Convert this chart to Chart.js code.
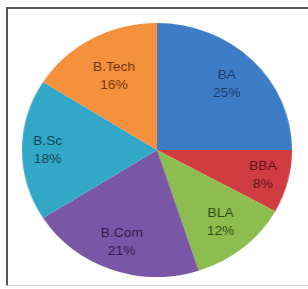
<!DOCTYPE html>
<html>
<head>
<meta charset="utf-8">
<script src="https://cdn.jsdelivr.net/npm/chart.js@4/dist/chart.umd.min.js"></script>
<style>
  html, body { margin: 0; padding: 0; background: #ffffff; }
  body { width: 308px; height: 289px; position: relative; overflow: hidden; }
  #frame { position: absolute; left: 6px; top: 7px; width: 320px; height: 279px;
           border-left: 2px solid #555; border-top: 2px solid #555; border-bottom: 1px solid #d8d8d8; box-sizing: border-box; }
  #wrap { position: absolute; left: 30px; top: 23px; width: 254px; height: 254px;
          transform: scaleX(1.063); transform-origin: 50% 50%; }
</style>
</head>
<body>
<div id="frame"></div>
<div id="wrap"><canvas id="c"></canvas></div>
<script>
const categories = ["BA", "BBA", "BLA", "B.Com", "B.Sc", "B.Tech"];
const shares = [25, 8, 12, 21, 18, 16];
const sliceColors = ["#3d7dc8", "#d13b42", "#8dbd4e", "#7a56a6", "#33a7c8", "#f5913d"];
const textColors = ["#1c3b66", "#5a1418", "#2f4a14", "#2e1c4a", "#123f4c", "#6a3410"];
const labelRadius = [0.73, 0.81, 0.74, 0.77, 0.81, 0.66];

const sliceLabels = {
  id: "sliceLabels",
  afterDatasetsDraw(chart) {
    const ctx = chart.ctx;
    const meta = chart.getDatasetMeta(0);
    ctx.save();
    ctx.font = "13px 'Liberation Sans', Arial, sans-serif";
    ctx.textAlign = "center";
    ctx.textBaseline = "middle";
    meta.data.forEach((arc, i) => {
      const p = arc.getProps(["x", "y", "startAngle", "endAngle", "outerRadius"], true);
      const mid = (p.startAngle + p.endAngle) / 2;
      const r = p.outerRadius * labelRadius[i];
      const x = p.x + Math.cos(mid) * r;
      const y = p.y + Math.sin(mid) * r;
      ctx.fillStyle = textColors[i];
      ctx.fillText(categories[i], x, y - 9);
      ctx.fillText(shares[i] + "%", x, y + 9);
    });
    ctx.restore();
  }
};

new Chart(document.getElementById("c"), {
  type: "pie",
  data: {
    labels: categories,
    datasets: [{ data: shares, backgroundColor: sliceColors, borderWidth: 0 }]
  },
  options: {
    responsive: true,
    maintainAspectRatio: false,
    animation: false,
    layout: { padding: 0 },
    plugins: { legend: { display: false }, tooltip: { enabled: false } }
  },
  plugins: [sliceLabels]
});
</script>
</body>
</html>
